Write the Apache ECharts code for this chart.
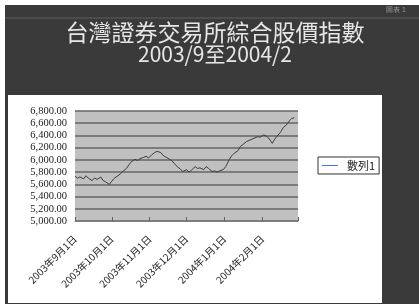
<!DOCTYPE html>
<html><head><meta charset="utf-8">
<script src="https://cdn.jsdelivr.net/npm/echarts@6/dist/echarts.min.js"></script>
<style>html,body{margin:0;padding:0;background:#fff}#c{width:419px;height:306px}</style>
</head><body><div id="c"></div>
<script>
const titleLine1 = '台灣證券交易所綜合股價指數';
const titleLine2 = '2003/9至2004/2';
const seriesName = '數列1';
const cornerText = '圖表 1';

const tradeDates = [
 '2003-09-01','2003-09-03','2003-09-05','2003-09-08','2003-09-10','2003-09-12','2003-09-15','2003-09-17','2003-09-19','2003-09-22','2003-09-24','2003-09-26','2003-09-29',
 '2003-10-01','2003-10-03','2003-10-06','2003-10-08','2003-10-10','2003-10-13','2003-10-15','2003-10-17','2003-10-20','2003-10-22','2003-10-24','2003-10-27','2003-10-29','2003-10-31',
 '2003-11-03','2003-11-05','2003-11-07','2003-11-10','2003-11-12','2003-11-14','2003-11-17','2003-11-19','2003-11-21','2003-11-24','2003-11-26','2003-11-28',
 '2003-12-01','2003-12-03','2003-12-05','2003-12-08','2003-12-10','2003-12-12','2003-12-15','2003-12-17','2003-12-19','2003-12-22','2003-12-24','2003-12-26','2003-12-29','2003-12-31',
 '2004-01-02','2004-01-05','2004-01-07','2004-01-09','2004-01-12','2004-01-14','2004-01-16','2004-01-19','2004-01-28','2004-01-30',
 '2004-02-02','2004-02-04','2004-02-06','2004-02-09','2004-02-11','2004-02-13','2004-02-16','2004-02-18','2004-02-20','2004-02-23','2004-02-25','2004-02-27'
];
const indexValues = [
 5734,5700,5720,5690,5740,5700,5660,5705,5680,5720,5660,5640,5600,
 5650,5700,5740,5770,5810,5860,5920,5970,6010,5990,6020,6040,6060,6030,
 6090,6120,6140,6120,6070,6050,6010,5990,5940,5880,5850,5810,
 5840,5800,5830,5890,5860,5870,5840,5890,5860,5810,5820,5800,5830,5840,
 5890,6010,6070,6110,6150,6220,6250,6300,6380,6370,
 6410,6390,6360,6270,6340,6390,6460,6530,6560,6640,6680,6690
];

const yMin = 5000, yMax = 6800, yStep = 200;
const xStart = '2003-09-01', xEnd = '2004-03-01';
const monthTicks = ['2003-09-01','2003-10-01','2003-11-01','2003-12-01','2004-01-01','2004-02-01'];
const monthLabels = ['2003年9月1日','2003年10月1日','2003年11月1日','2003年12月1日','2004年1月1日','2004年2月1日'];

function ts(s){ const p = s.split('-').map(Number); return Date.UTC(p[0], p[1]-1, p[2]); }
const tickTs = monthTicks.map(ts);
const labelMap = {};
tickTs.forEach((t,i)=>{ labelMap[t] = monthLabels[i]; });

const chart = echarts.init(document.getElementById('c'), null, {renderer:'canvas'});
chart.setOption({
  backgroundColor: '#ffffff',
  animation: false,
  graphic: [
    {type:'rect', z:-20, shape:{x:5,y:5,width:414,height:299}, style:{fill:'#3a3a3a'}},
    {type:'rect', z:-19, shape:{x:8,y:95,width:374,height:208}, style:{fill:'#ffffff'}},
    {type:'line', z:-18, shape:{x1:5,y1:18,x2:419,y2:18}, style:{stroke:'#5c5c5c', lineWidth:1}},
    {type:'text', x:396, y:10, style:{text:cornerText, fill:'#9a9a9a', fontSize:7, textAlign:'center', textVerticalAlign:'middle'}},
    {type:'text', x:215, y:32, style:{text:titleLine1, fill:'#e6e6e6', fontSize:23, fontFamily:'Noto Sans CJK TC', textAlign:'center', textVerticalAlign:'middle'}},
    {type:'text', x:215, y:54, style:{text:titleLine2, fill:'#e6e6e6', fontSize:21, fontFamily:'Noto Sans CJK TC', textAlign:'center', textVerticalAlign:'middle'}}
  ],
  grid: {left:75, right:121, top:111, bottom:85, show:true, backgroundColor:'#c0c0c0', borderWidth:0},
  legend: {
    left: 318, top: 157, orient:'vertical',
    backgroundColor:'#fff', borderColor:'#333', borderWidth:1, padding:[3,4,3,4],
    itemWidth:16, itemHeight:8,
    textStyle:{fontSize:11, color:'#222', fontFamily:'Noto Sans CJK TC', padding:[0,0,0,4]},
    data:[{name:seriesName, icon:'path://M0,4 L16,4 L16,5 L0,5 Z'}]
  },
  xAxis: {
    type:'value', min: ts(xStart), max: ts(xEnd),
    axisLine:{show:true, lineStyle:{color:'#808080'}},
    axisTick:{show:true, inside:true, length:4, customValues: tickTs.concat([ts(xEnd)]), lineStyle:{color:'#606060'}},
    axisLabel:{customValues: tickTs, rotate:45, margin:16, fontSize:10, color:'#222', fontFamily:'Noto Sans CJK TC',
      formatter: v => labelMap[v] || ''},
    splitLine:{show:false}
  },
  yAxis: {
    type:'value', min:yMin, max:yMax, interval:yStep,
    axisLine:{show:false}, axisTick:{show:false},
    axisLabel:{margin:8, fontSize:10.5, color:'#222', fontFamily:'Liberation Serif',
      formatter: v => v.toLocaleString('en-US',{minimumFractionDigits:2, maximumFractionDigits:2})},
    splitLine:{show:true, lineStyle:{color:'#666', width:1.5}}
  },
  series: [{
    name: seriesName, type:'line', symbol:'none',
    lineStyle:{color:'#3c3c3c', width:1},
    data: tradeDates.map((d,i)=>[ts(d), indexValues[i]])
  }]
});
</script></body></html>
